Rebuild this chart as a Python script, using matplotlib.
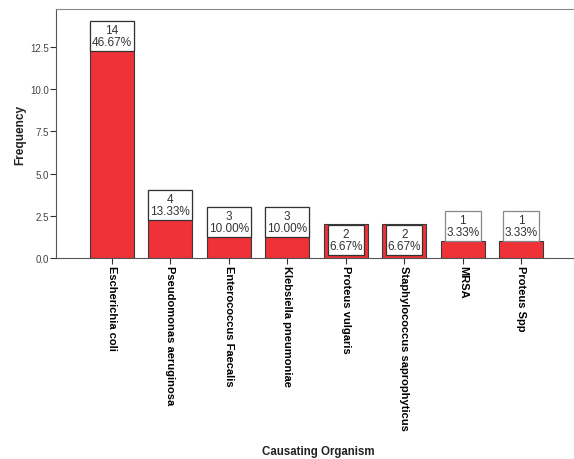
import matplotlib.pyplot as plt
from matplotlib.patches import Rectangle
import numpy as np

plt.rcParams['font.family'] = ['Liberation Sans', 'DejaVu Sans']

organisms = ['Escherichia coli', 'Pseudomonas aeruginosa', 'Enterococcus Faecalis',
             'Klebsiella pneumoniae', 'Proteus vulgaris', 'Staphylococcus saprophyticus',
             'MRSA', 'Proteus Spp']
counts = [14, 4, 3, 3, 2, 2, 1, 1]
total = sum(counts)
yticks = [0.0, 2.5, 5.0, 7.5, 10.0, 12.5]

fig = plt.figure(figsize=(5.74, 4.60), dpi=100)
ax = fig.add_axes([0.0976, 0.437, 0.9024, 0.541])

x = np.arange(len(organisms))
bar_w = 0.75
ax.bar(x, counts, width=bar_w, color='#EE3238', edgecolor='#3a3a3a', linewidth=0.8, zorder=2)

ax.set_xlim(-0.95, 7.9)
ax.set_ylim(0, 14.73)

# label box size in data units (about 30 px tall)
px_per_unit = 460 * 0.541 / 14.73
box_h = 30 / px_per_unit
narrow_w = 0.62
for xi, v in zip(x, counts):
    pct = v / total * 100
    if v >= box_h + 0.5:
        bx, bw, by, ec = xi - bar_w / 2, bar_w, v - box_h, '#333333'
    elif v >= box_h:
        bx, bw, by, ec = xi - narrow_w / 2, narrow_w, v - box_h - 0.03, '#333333'
    else:
        bx, bw, by, ec = xi - narrow_w / 2, narrow_w, v, '#888888'
    ax.add_patch(Rectangle((bx, by), bw, box_h, facecolor='white', edgecolor=ec,
                           linewidth=0.9, zorder=3))
    ax.text(xi, by + box_h / 2, '%d\n%.2f%%' % (v, pct), ha='center', va='center',
            fontsize=8.5, color='#333333', linespacing=1.0, zorder=4)

ax.set_yticks(yticks)
ax.set_yticklabels(['%.1f' % t for t in yticks], fontsize=7, color='#444444')
ax.set_xticks(x)
ax.set_xticklabels(organisms, rotation=270, fontsize=8, fontweight='bold',
                   va='top', ha='center')
ax.tick_params(axis='both', direction='out', length=4, width=0.8, color='#333333')
ax.tick_params(axis='x', pad=1)
ax.tick_params(axis='y', pad=1)

ax.spines['right'].set_visible(False)
ax.spines['top'].set_color('#888888')
ax.spines['left'].set_color('#555555')
ax.spines['bottom'].set_color('#555555')
for s in ax.spines.values():
    s.set_linewidth(0.8)

fig.text(0.554, 0.017, 'Causating Organism', ha='center', va='center',
         fontsize=8.3, fontweight='bold', color='#222222')
fig.text(0.035, 0.707, 'Frequency', ha='center', va='center', rotation=90,
         fontsize=8.6, fontweight='bold', color='#222222')

fig.savefig('out.png', dpi=100)
